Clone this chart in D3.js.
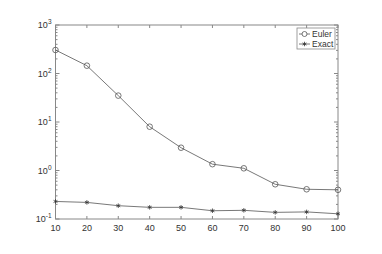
<!DOCTYPE html>
<html>
<head>
<meta charset="utf-8">
<script src="https://cdn.jsdelivr.net/npm/d3@7"></script>
<style>
  body { margin: 0; background: #fff; }
  svg { display: block; }
  text { font-family: "Liberation Sans", Arial, sans-serif; fill: #333; }
</style>
</head>
<body>
<div class="svg-container"></div>
<script>
const W = 382, H = 254;
const margin = { top: 25, right: 44, bottom: 35, left: 55.5 };
const width = W - margin.left - margin.right;
const height = H - margin.top - margin.bottom;

// data
const steps = [10, 20, 30, 40, 50, 60, 70, 80, 90, 100];
const euler = [305, 145, 35, 8.0, 2.95, 1.35, 1.11, 0.52, 0.41, 0.40];
const exact = [0.23, 0.22, 0.188, 0.174, 0.174, 0.148, 0.151, 0.137, 0.14, 0.128];
const seriesNames = ['Euler', 'Exact'];
const yDecades = [-1, 0, 1, 2, 3];

const svg = d3.select('.svg-container')
    .append('svg')
    .attr('width', W)
    .attr('height', H)
    .append('g')
    .attr('transform', `translate(${margin.left},${margin.top})`);

const x = d3.scaleLinear().domain([10, 100]).range([0, width]);
const y = d3.scaleLog().domain([0.1, 1000]).range([height, 0]);

const axisColor = '#888';
const lineColor = '#555';

// minor ticks on log axis
const minor = [];
yDecades.slice(0, -1).forEach((e) => {
    for (let k = 2; k <= 9; k++) minor.push(k * Math.pow(10, e));
});

// box
svg.append('rect')
    .attr('width', width).attr('height', height)
    .attr('fill', 'none').attr('stroke', axisColor).attr('stroke-width', 1);

// x ticks (bottom and top, inward)
steps.forEach((s) => {
    svg.append('line').attr('x1', x(s)).attr('x2', x(s)).attr('y1', height).attr('y2', height - 3)
        .attr('stroke', axisColor);
    svg.append('line').attr('x1', x(s)).attr('x2', x(s)).attr('y1', 0).attr('y2', 3)
        .attr('stroke', axisColor);
    svg.append('text').attr('x', x(s)).attr('y', height + 12)
        .attr('text-anchor', 'middle').style('font-size', '9px').text(s);
});

// y ticks major + minor (left and right)
yDecades.forEach((e) => {
    const v = Math.pow(10, e);
    svg.append('line').attr('x1', 0).attr('x2', 4).attr('y1', y(v)).attr('y2', y(v)).attr('stroke', axisColor);
    svg.append('line').attr('x1', width).attr('x2', width - 4).attr('y1', y(v)).attr('y2', y(v)).attr('stroke', axisColor);
    const t = svg.append('text').attr('x', -4).attr('y', y(v) + 3)
        .attr('text-anchor', 'end').style('font-size', '9px');
    t.append('tspan').text('10');
    t.append('tspan').attr('dy', -4).style('font-size', '6.5px').text(e);
});
minor.forEach((v) => {
    svg.append('line').attr('x1', 0).attr('x2', 2).attr('y1', y(v)).attr('y2', y(v)).attr('stroke', axisColor);
    svg.append('line').attr('x1', width).attr('x2', width - 2).attr('y1', y(v)).attr('y2', y(v)).attr('stroke', axisColor);
});

const line = d3.line().x((d, i) => x(steps[i])).y((d) => y(d));

// Euler line with circles
svg.append('path').datum(euler).attr('d', line)
    .attr('fill', 'none').attr('stroke', lineColor).attr('stroke-width', 0.8);
svg.selectAll('.euler-pt').data(euler).enter().append('circle')
    .attr('class', 'euler-pt')
    .attr('cx', (d, i) => x(steps[i])).attr('cy', (d) => y(d)).attr('r', 2.8)
    .attr('fill', 'none').attr('stroke', lineColor).attr('stroke-width', 0.8);

// Exact line with stars
svg.append('path').datum(exact).attr('d', line)
    .attr('fill', 'none').attr('stroke', lineColor).attr('stroke-width', 0.8);
const star = d3.symbol().type(d3.symbolAsterisk || d3.symbolCross).size(14);
svg.selectAll('.exact-pt').data(exact).enter().append('path')
    .attr('class', 'exact-pt')
    .attr('transform', (d, i) => `translate(${x(steps[i])},${y(d)})`)
    .attr('d', star)
    .attr('fill', '#333').attr('stroke', '#333').attr('stroke-width', 0.8);

// legend
const lg = svg.append('g').attr('transform', `translate(${width - 41},3)`);
lg.append('rect').attr('width', 38).attr('height', 21)
    .attr('fill', '#fff').attr('stroke', axisColor).attr('stroke-width', 0.8);
seriesNames.forEach((name, i) => {
    const yy = 6 + i * 10;
    lg.append('line').attr('x1', 2).attr('x2', 13).attr('y1', yy).attr('y2', yy)
        .attr('stroke', lineColor).attr('stroke-width', 0.8);
    if (i === 0) {
        lg.append('circle').attr('cx', 7.5).attr('cy', yy).attr('r', 2.5)
            .attr('fill', '#fff').attr('stroke', lineColor).attr('stroke-width', 0.8);
    } else {
        lg.append('path').attr('transform', `translate(7.5,${yy})`).attr('d', star)
            .attr('fill', '#333').attr('stroke', '#333').attr('stroke-width', 0.8);
    }
    lg.append('text').attr('x', 15).attr('y', yy + 3).style('font-size', '8.5px').text(name);
});
</script>
</body>
</html>
